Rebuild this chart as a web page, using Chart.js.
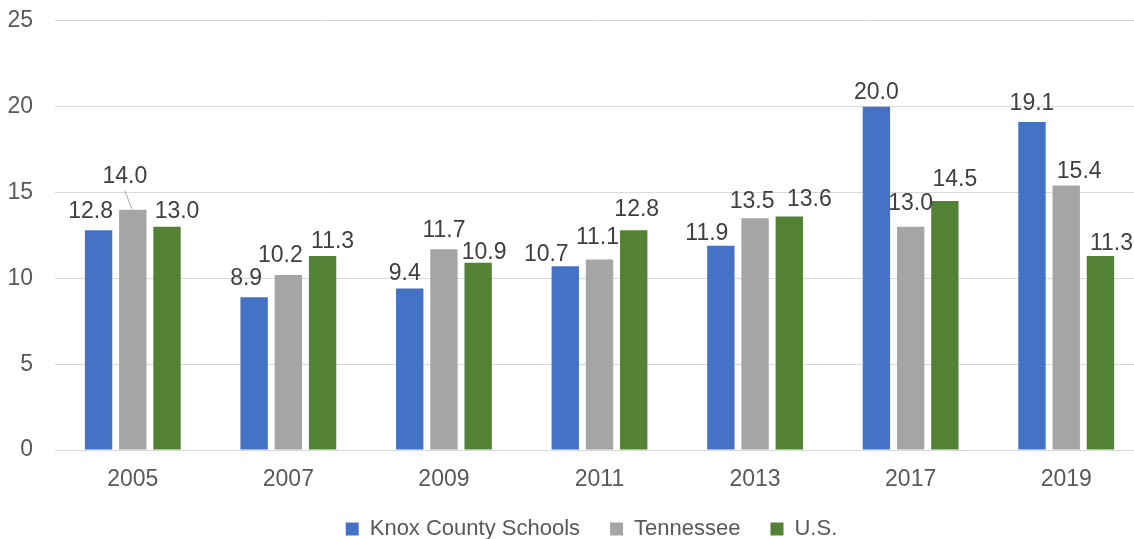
<!DOCTYPE html>
<html>
<head>
<meta charset="utf-8">
<script src="https://cdn.jsdelivr.net/npm/chart.js@4.4.1/dist/chart.umd.min.js"></script>
<style>
  html, body { margin: 0; padding: 0; background: #fff; overflow: hidden; }
  #wrap { width: 1144px; height: 565px; position: relative; margin-top: -15px; }
</style>
</head>
<body>
<div id="wrap"><canvas id="myChart"></canvas></div>
<script>
// chart data
const years = ['2005', '2007', '2009', '2011', '2013', '2017', '2019'];
const knoxCounty = [12.8, 8.9, 9.4, 10.7, 11.9, 20.0, 19.1];
const tennessee = [14.0, 10.2, 11.7, 11.1, 13.5, 13.0, 15.4];
const unitedStates = [13.0, 11.3, 10.9, 12.8, 13.6, 14.5, 11.3];
const yTicks = [0, 5, 10, 15, 20, 25];

// label nudges (px), per series then per year - the labels were hand placed in the original
const labelDx = [
  [-8, -8, -5, -19, -14, 0, 0],
  [-8, -8, 0, -2, -3, 0, 13],
  [10, 10, 6, 3, 20, 10, 11]
];
const labelGap = [
  [12, 12, 9, 5, 6, 8, 12],
  [27, 13, 12, 15, 10, 17, 8],
  [9, 8, 4, 14, 11, 15, 6]
];

const FONT = "'Liberation Sans', Arial, sans-serif";

// draws the value labels above each bar
const barLabels = {
  id: 'barLabels',
  afterLayout(chart) {
    // legend sits a little right of centre in the original
    chart.legend.left += 16;
    chart.legend.right += 16;
  },
  afterDatasetsDraw(chart) {
    const ctx = chart.ctx;
    ctx.save();
    ctx.font = '23px ' + FONT;
    ctx.fillStyle = '#404040';
    ctx.textAlign = 'center';
    ctx.textBaseline = 'alphabetic';
    chart.data.datasets.forEach((ds, di) => {
      const meta = chart.getDatasetMeta(di);
      meta.data.forEach((bar, i) => {
        const x = bar.x + labelDx[di][i];
        const y = bar.y - labelGap[di][i];
        ctx.fillText(ds.data[i].toFixed(1), x, y);
        if (labelGap[di][i] > 20) {
          // leader line for a label moved away from its bar
          ctx.strokeStyle = '#A6A6A6';
          ctx.lineWidth = 1;
          ctx.beginPath();
          ctx.moveTo(x, y + 8);
          ctx.lineTo(bar.x - 1, bar.y - 1);
          ctx.stroke();
        }
      });
    });
    ctx.restore();
  }
};

new Chart(document.getElementById('myChart'), {
  type: 'bar',
  data: {
    labels: years,
    datasets: [
      { label: 'Knox County Schools', data: knoxCounty, backgroundColor: '#4472C4' },
      { label: 'Tennessee', data: tennessee, backgroundColor: '#A5A5A5' },
      { label: 'U.S.', data: unitedStates, backgroundColor: '#548235' }
    ]
  },
  options: {
    responsive: true,
    maintainAspectRatio: false,
    animation: false,
    categoryPercentage: 0.66,
    barPercentage: 0.8,
    layout: { padding: { left: 7, right: 0, top: 8, bottom: 0 } },
    plugins: {
      legend: {
        position: 'bottom',
        labels: {
          boxWidth: 13,
          boxHeight: 13,
          padding: 30,
          color: '#595959',
          font: { family: FONT, size: 22 }
        }
      },
      tooltip: { enabled: false }
    },
    scales: {
      x: {
        afterFit(axis) { axis.height = 38; },
        grid: { display: false, drawTicks: false },
        border: { color: '#D9D9D9', width: 1 },
        ticks: { color: '#595959', padding: 16, font: { family: FONT, size: 23 } }
      },
      y: {
        min: 0,
        max: 25,
        afterBuildTicks(axis) { axis.ticks = yTicks.map(v => ({ value: v })); },
        afterFit(axis) { axis.width = 48; },
        grid: { color: '#D9D9D9', lineWidth: 1, drawTicks: false },
        border: { display: false },
        ticks: { color: '#595959', padding: 22, font: { family: FONT, size: 23 } }
      }
    }
  },
  plugins: [barLabels]
});
</script>
</body>
</html>
